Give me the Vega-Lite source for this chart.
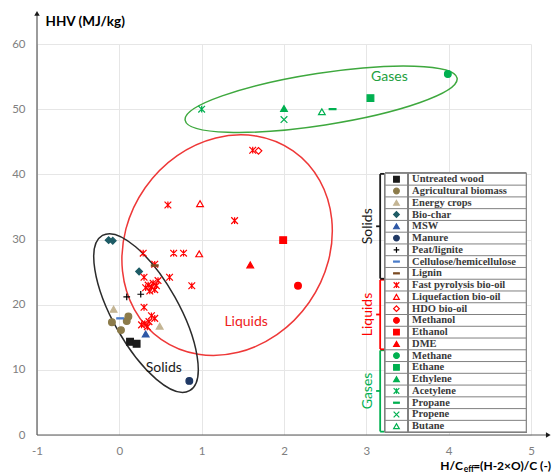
{
  "$schema": "https://vega.github.io/schema/vega-lite/v6.json",
  "width": 494,
  "height": 391,
  "autosize": "none",
  "padding": {"left": 37, "top": 44, "right": 22, "bottom": 41},
  "background": "white",
  "config": {"view": {"stroke": null}, "font": "Lato"},
  "layer": [
    {
      "layer": [
        {
          "data": {"values": [
            {"series": "Untreated wood", "x": 0.13, "y": 14.3},
            {"series": "Manure", "x": 0.85, "y": 8.3},
            {"series": "Methane", "x": 3.99, "y": 55.4}
          ]},
          "mark": {"type": "point", "opacity": 0, "size": 1},
          "encoding": {
            "x": {"field": "x", "type": "quantitative", "scale": {"domain": [-1, 5], "nice": false, "zero": false},
              "axis": {"values": [-1, 0, 1, 2, 3, 4, 5], "labelExpr": "datum.value < 0 ? '-' + abs(datum.value) : '' + datum.value", "title": null, "grid": true, "gridColor": "#e6e6e6", "domain": false, "ticks": false, "labelPadding": 10, "labelColor": "#808080", "labelFontSize": 11.5, "labelFont": "Lato", "labelFlush": false}},
            "y": {"field": "y", "type": "quantitative", "scale": {"domain": [0, 60], "nice": false, "zero": false},
              "axis": {"values": [0, 10, 20, 30, 40, 50, 60], "labelExpr": "'' + datum.value", "title": "HHV (MJ/kg)", "titleAngle": 0, "titleX": 8, "titleY": -23, "titleAlign": "left", "titleBaseline": "middle", "titleFontSize": 13.5, "titleFontWeight": "bold", "titleColor": "#000000", "titleFont": "Lato", "grid": true, "gridColor": "#e6e6e6", "domain": false, "ticks": false, "labelPadding": 12, "labelColor": "#808080", "labelFontSize": 11.5, "labelFont": "Lato"}}
          }
        },
        {
          "data": {"values": [{}]},
          "mark": {"type": "point", "shape": "M 1 0 C 1 0.1044 0.5523 0.189 0 0.189 C -0.5523 0.189 -1 0.1044 -1 0 C -1 -0.1044 -0.5523 -0.189 0 -0.189 C 0.5523 -0.189 1 -0.1044 1 0 Z", "size": 75735, "angle": -8.8, "filled": false, "stroke": "#3ea83e", "strokeWidth": 1.5, "opacity": 1},
          "encoding": {"x": {"datum": 2.451}, "y": {"datum": 51.53}}
        },
        {
          "data": {"values": [{}]},
          "mark": {"type": "point", "shape": "M 1 0 C 1 0.4805 0.5523 0.87 0 0.87 C -0.5523 0.87 -1 0.4805 -1 0 C -1 -0.4805 -0.5523 -0.87 0 -0.87 C 0.5523 -0.87 1 -0.4805 1 0 Z", "size": 52900, "angle": -55, "filled": false, "stroke": "#ee3838", "strokeWidth": 1.5, "opacity": 1},
          "encoding": {"x": {"datum": 1.309}, "y": {"datum": 29.14}}
        },
        {
          "data": {"values": [{}]},
          "mark": {"type": "point", "shape": "M 1 0 C 1 0.2049 0.5523 0.371 0 0.371 C -0.5523 0.371 -1 0.2049 -1 0 C -1 -0.2049 -0.5523 -0.371 0 -0.371 C 0.5523 -0.371 1 -0.2049 1 0 Z", "size": 31684, "angle": 60.7, "filled": false, "stroke": "#2b2b2b", "strokeWidth": 1.5, "opacity": 1},
          "encoding": {"x": {"datum": 0.324}, "y": {"datum": 18.71}}
        },
        {
          "data": {"values": [{}]},
          "mark": {"type": "text", "text": "Gases", "color": "#22a040", "fontSize": 14, "font": "Lato"},
          "encoding": {"x": {"datum": 3.28}, "y": {"datum": 54.95}}
        },
        {
          "data": {"values": [{}]},
          "mark": {"type": "text", "text": "Liquids", "color": "#ee2020", "fontSize": 14, "font": "Lato"},
          "encoding": {"x": {"datum": 1.54}, "y": {"datum": 17.3}}
        },
        {
          "data": {"values": [{}]},
          "mark": {"type": "text", "text": "Solids", "color": "#1a1a1a", "fontSize": 14, "font": "Lato"},
          "encoding": {"x": {"datum": 0.54}, "y": {"datum": 10.3}}
        },
        {
          "data": {"values": [
            {"series": "Untreated wood", "x": 0.13, "y": 14.3},
            {"series": "Untreated wood", "x": 0.21, "y": 14.0},
            {"series": "Agricultural biomass", "x": -0.09, "y": 17.3},
            {"series": "Agricultural biomass", "x": 0.02, "y": 16.1},
            {"series": "Agricultural biomass", "x": 0.09, "y": 17.5},
            {"series": "Agricultural biomass", "x": 0.11, "y": 18.2},
            {"series": "Energy crops", "x": -0.07, "y": 19.3},
            {"series": "Energy crops", "x": 0.49, "y": 16.7},
            {"series": "Bio-char", "x": -0.13, "y": 29.9},
            {"series": "Bio-char", "x": -0.08, "y": 29.8},
            {"series": "Bio-char", "x": 0.24, "y": 25.1},
            {"series": "MSW", "x": 0.32, "y": 15.5},
            {"series": "Manure", "x": 0.85, "y": 8.3},
            {"series": "Peat/lignite", "x": 0.09, "y": 21.2},
            {"series": "Peat/lignite", "x": 0.26, "y": 21.6},
            {"series": "Cellulose/hemicellulose", "x": 0.01, "y": 17.9},
            {"series": "Fast pyrolysis bio-oil", "x": 0.59, "y": 35.3},
            {"series": "Fast pyrolysis bio-oil", "x": 0.29, "y": 27.9},
            {"series": "Fast pyrolysis bio-oil", "x": 0.43, "y": 26.2},
            {"series": "Fast pyrolysis bio-oil", "x": 0.66, "y": 27.9},
            {"series": "Fast pyrolysis bio-oil", "x": 0.78, "y": 27.9},
            {"series": "Fast pyrolysis bio-oil", "x": 0.30, "y": 24.2},
            {"series": "Fast pyrolysis bio-oil", "x": 0.61, "y": 24.2},
            {"series": "Fast pyrolysis bio-oil", "x": 0.88, "y": 22.9},
            {"series": "Fast pyrolysis bio-oil", "x": 1.40, "y": 32.9},
            {"series": "Fast pyrolysis bio-oil", "x": 1.62, "y": 43.7},
            {"series": "Fast pyrolysis bio-oil", "x": 0.35, "y": 23.0},
            {"series": "Fast pyrolysis bio-oil", "x": 0.41, "y": 23.3},
            {"series": "Fast pyrolysis bio-oil", "x": 0.47, "y": 23.7},
            {"series": "Fast pyrolysis bio-oil", "x": 0.37, "y": 22.1},
            {"series": "Fast pyrolysis bio-oil", "x": 0.43, "y": 22.3},
            {"series": "Fast pyrolysis bio-oil", "x": 0.32, "y": 22.6},
            {"series": "Fast pyrolysis bio-oil", "x": 0.39, "y": 22.7},
            {"series": "Fast pyrolysis bio-oil", "x": 0.45, "y": 22.9},
            {"series": "Fast pyrolysis bio-oil", "x": 0.30, "y": 19.6},
            {"series": "Fast pyrolysis bio-oil", "x": 0.39, "y": 18.3},
            {"series": "Fast pyrolysis bio-oil", "x": 0.43, "y": 17.9},
            {"series": "Fast pyrolysis bio-oil", "x": 0.31, "y": 17.1},
            {"series": "Fast pyrolysis bio-oil", "x": 0.36, "y": 17.4},
            {"series": "Fast pyrolysis bio-oil", "x": 0.27, "y": 16.9},
            {"series": "Fast pyrolysis bio-oil", "x": 0.34, "y": 16.6},
            {"series": "Lignin", "x": 0.43, "y": 26.0},
            {"series": "Liquefaction bio-oil", "x": 0.98, "y": 35.5},
            {"series": "Liquefaction bio-oil", "x": 0.97, "y": 27.8},
            {"series": "HDO bio-oil", "x": 1.69, "y": 43.6},
            {"series": "Methanol", "x": 2.17, "y": 22.9},
            {"series": "Ethanol", "x": 1.99, "y": 29.9},
            {"series": "DME", "x": 1.59, "y": 26.1},
            {"series": "Methane", "x": 3.99, "y": 55.4},
            {"series": "Ethane", "x": 3.05, "y": 51.7},
            {"series": "Ethylene", "x": 2.0, "y": 50.1},
            {"series": "Acetylene", "x": 1.0, "y": 50.0},
            {"series": "Propane", "x": 2.59, "y": 50.0},
            {"series": "Propene", "x": 2.0, "y": 48.4},
            {"series": "Butane", "x": 2.46, "y": 49.6}
          ]},
          "mark": {"type": "point", "opacity": 1, "strokeWidth": 1.2},
          "encoding": {
            "x": {"field": "x", "type": "quantitative"},
            "y": {"field": "y", "type": "quantitative"},
            "shape": {"field": "series", "type": "nominal", "legend": null, "scale": {
              "domain": ["Untreated wood", "Agricultural biomass", "Energy crops", "Bio-char", "MSW", "Manure", "Peat/lignite", "Cellulose/hemicellulose", "Lignin", "Fast pyrolysis bio-oil", "Liquefaction bio-oil", "HDO bio-oil", "Methanol", "Ethanol", "DME", "Methane", "Ethane", "Ethylene", "Acetylene", "Propane", "Propene", "Butane"],
              "range": ["square", "circle", "triangle-up", "diamond", "triangle-up", "circle", "M -1 0 L 1 0 M 0 -1 L 0 1", "M -1 -0.18 L 1 -0.18 L 1 0.18 L -1 0.18 Z", "M -1 -0.18 L 1 -0.18 L 1 0.18 L -1 0.18 Z", "M -1 -1 L 1 1 M -1 1 L 1 -1 M 0 -1 L 0 1", "triangle-up", "diamond", "circle", "square", "triangle-up", "circle", "square", "triangle-up", "M -1 -1 L 1 1 M -1 1 L 1 -1 M 0 -1 L 0 1", "M -1 -0.18 L 1 -0.18 L 1 0.18 L -1 0.18 Z", "M -1 -1 L 1 1 M -1 1 L 1 -1", "triangle-up"]}},
            "fill": {"field": "series", "type": "nominal", "legend": null, "scale": {
              "domain": ["Untreated wood", "Agricultural biomass", "Energy crops", "Bio-char", "MSW", "Manure", "Peat/lignite", "Cellulose/hemicellulose", "Lignin", "Fast pyrolysis bio-oil", "Liquefaction bio-oil", "HDO bio-oil", "Methanol", "Ethanol", "DME", "Methane", "Ethane", "Ethylene", "Acetylene", "Propane", "Propene", "Butane"],
              "range": ["#1a1a1a", "#8c7b4a", "#c4b594", "#1e5c66", "#2e58a6", "#1f3864", "transparent", "#4a7cc9", "#7b4b22", "transparent", "white", "white", "#ff0000", "#ff0000", "#ff0000", "#00b050", "#00b050", "#00b050", "transparent", "#00b050", "transparent", "white"]}},
            "stroke": {"field": "series", "type": "nominal", "legend": null, "scale": {
              "domain": ["Untreated wood", "Agricultural biomass", "Energy crops", "Bio-char", "MSW", "Manure", "Peat/lignite", "Cellulose/hemicellulose", "Lignin", "Fast pyrolysis bio-oil", "Liquefaction bio-oil", "HDO bio-oil", "Methanol", "Ethanol", "DME", "Methane", "Ethane", "Ethylene", "Acetylene", "Propane", "Propene", "Butane"],
              "range": ["#1a1a1a", "#8c7b4a", "#c4b594", "#1e5c66", "#2e58a6", "#1f3864", "#000000", "#4a7cc9", "#7b4b22", "#ff0000", "#ff0000", "#ff0000", "#ff0000", "#ff0000", "#ff0000", "#00b050", "#00b050", "#00b050", "#00b050", "#00b050", "#00b050", "#00b050"]}},
            "size": {"field": "series", "type": "nominal", "legend": null, "scale": {
              "domain": ["Untreated wood", "Agricultural biomass", "Energy crops", "Bio-char", "MSW", "Manure", "Peat/lignite", "Cellulose/hemicellulose", "Lignin", "Fast pyrolysis bio-oil", "Liquefaction bio-oil", "HDO bio-oil", "Methanol", "Ethanol", "DME", "Methane", "Ethane", "Ethylene", "Acetylene", "Propane", "Propene", "Butane"],
              "range": [45, 45, 50, 50, 50, 45, 36, 80, 80, 55, 60, 60, 45, 45, 50, 45, 45, 50, 55, 80, 36, 50]}}
          }
        },
        {
          "data": {"values": [{}]},
          "mark": {"type": "rule", "color": "#595959", "strokeWidth": 1.2},
          "encoding": {"x": {"datum": -1}, "y": {"datum": 0}, "y2": {"datum": 64.7}}
        },
        {
          "data": {"values": [{}]},
          "mark": {"type": "rule", "color": "#595959", "strokeWidth": 1.2},
          "encoding": {"x": {"datum": -1}, "x2": {"datum": 5.2}, "y": {"datum": 0}}
        },
        {
          "data": {"values": [{}]},
          "mark": {"type": "point", "shape": "triangle-up", "size": 30, "filled": true, "color": "#1a1a1a", "opacity": 1},
          "encoding": {"x": {"datum": -1}, "y": {"datum": 64.7}}
        },
        {
          "data": {"values": [{}]},
          "mark": {"type": "point", "shape": "triangle-right", "size": 30, "filled": true, "color": "#1a1a1a", "opacity": 1},
          "encoding": {"x": {"datum": 5.21}, "y": {"datum": 0}}
        },
        {
          "data": {"values": [{}]},
          "mark": {"type": "text", "text": "H/C", "align": "right", "baseline": "middle", "fontSize": 12, "fontWeight": "bold", "font": "Lato", "color": "#000000"},
          "encoding": {"x": {"datum": 4.172}, "y": {"datum": -4.75}}
        },
        {
          "data": {"values": [{}]},
          "mark": {"type": "text", "text": "eff", "align": "right", "baseline": "middle", "fontSize": 8.5, "fontWeight": "bold", "font": "Lato", "color": "#000000", "dy": 3},
          "encoding": {"x": {"datum": 4.308}, "y": {"datum": -4.75}}
        },
        {
          "data": {"values": [{}]},
          "mark": {"type": "text", "text": "=(H-2×O)/C (-)", "align": "right", "baseline": "middle", "fontSize": 12, "fontWeight": "bold", "font": "Lato", "color": "#000000"},
          "encoding": {"x": {"datum": 5.245}, "y": {"datum": -4.75}}
        }
      ]
    },
    {
      "data": {"values": [
        {"series": "Untreated wood", "group": "Solids", "row": 0},
        {"series": "Agricultural biomass", "group": "Solids", "row": 1},
        {"series": "Energy crops", "group": "Solids", "row": 2},
        {"series": "Bio-char", "group": "Solids", "row": 3},
        {"series": "MSW", "group": "Solids", "row": 4},
        {"series": "Manure", "group": "Solids", "row": 5},
        {"series": "Peat/lignite", "group": "Solids", "row": 6},
        {"series": "Cellulose/hemicellulose", "group": "Solids", "row": 7},
        {"series": "Lignin", "group": "Solids", "row": 8},
        {"series": "Fast pyrolysis bio-oil", "group": "Liquids", "row": 9},
        {"series": "Liquefaction bio-oil", "group": "Liquids", "row": 10},
        {"series": "HDO bio-oil", "group": "Liquids", "row": 11},
        {"series": "Methanol", "group": "Liquids", "row": 12},
        {"series": "Ethanol", "group": "Liquids", "row": 13},
        {"series": "DME", "group": "Liquids", "row": 14},
        {"series": "Methane", "group": "Gases", "row": 15},
        {"series": "Ethane", "group": "Gases", "row": 16},
        {"series": "Ethylene", "group": "Gases", "row": 17},
        {"series": "Acetylene", "group": "Gases", "row": 18},
        {"series": "Propane", "group": "Gases", "row": 19},
        {"series": "Propene", "group": "Gases", "row": 20},
        {"series": "Butane", "group": "Gases", "row": 21}
      ]},
      "layer": [
        {
          "mark": {"type": "rect", "fill": "white", "stroke": "#808080", "strokeWidth": 1},
          "encoding": {
            "x": {"datum": 3.228},
            "x2": {"datum": 4.942},
            "y": {"datum": -0.5, "axis": null, "scale": {"domain": [-11.5, 21.745], "reverse": true, "nice": false, "zero": false}},
            "y2": {"datum": 21.5}
          }
        },
        {
          "mark": {"type": "rule", "color": "#808080", "strokeWidth": 1, "yOffset": 5.88},
          "encoding": {
            "x": {"datum": 3.228},
            "x2": {"datum": 4.942},
            "y": {"field": "row", "type": "quantitative", "axis": null}
          }
        },
        {
          "mark": {"type": "rule", "color": "#808080", "strokeWidth": 1},
          "encoding": {
            "x": {"datum": 3.508},
            "y": {"datum": -0.5, "axis": null},
            "y2": {"datum": 21.5}
          }
        },
        {
          "mark": {"type": "point", "opacity": 1, "strokeWidth": 1.2, "size": 32},
          "encoding": {
            "x": {"datum": 3.366},
            "y": {"field": "row", "type": "quantitative", "axis": null},
            "shape": {"field": "series", "type": "nominal", "legend": null},
            "fill": {"field": "series", "type": "nominal", "legend": null},
            "stroke": {"field": "series", "type": "nominal", "legend": null}
          }
        },
        {
          "mark": {"type": "text", "align": "left", "baseline": "middle", "font": "Liberation Serif", "fontWeight": "bold", "fontSize": 10.5, "color": "#3a3a3a"},
          "encoding": {
            "x": {"datum": 3.556},
            "y": {"field": "row", "type": "quantitative", "axis": null},
            "text": {"field": "series"}
          }
        },
        {
          "transform": [{"aggregate": [{"op": "min", "field": "row", "as": "r0"}, {"op": "max", "field": "row", "as": "r1"}, {"op": "mean", "field": "row", "as": "rm"}], "groupby": ["group"]}],
          "layer": [
            {
              "mark": {"type": "rule", "strokeWidth": 1.8, "yOffset": -5.2, "y2Offset": 5.2},
              "encoding": {
                "x": {"datum": 3.168},
                "y": {"field": "r0", "type": "quantitative", "axis": null},
                "y2": {"field": "r1"},
                "color": {"field": "group", "type": "nominal", "legend": null, "scale": {"domain": ["Solids", "Liquids", "Gases"], "range": ["#1a1a1a", "#ff0000", "#00b050"]}}
              }
            },
            {
              "mark": {"type": "rule", "strokeWidth": 1.8, "yOffset": -5.4},
              "encoding": {
                "x": {"datum": 3.168},
                "x2": {"datum": 3.216},
                "y": {"field": "r0", "type": "quantitative", "axis": null},
                "color": {"field": "group", "type": "nominal", "legend": null}
              }
            },
            {
              "mark": {"type": "rule", "strokeWidth": 1.8, "yOffset": 5.4},
              "encoding": {
                "x": {"datum": 3.168},
                "x2": {"datum": 3.216},
                "y": {"field": "r1", "type": "quantitative", "axis": null},
                "color": {"field": "group", "type": "nominal", "legend": null}
              }
            },
            {
              "mark": {"type": "rule", "strokeWidth": 1.8},
              "encoding": {
                "x": {"datum": 3.119},
                "x2": {"datum": 3.168},
                "y": {"field": "rm", "type": "quantitative", "axis": null},
                "color": {"field": "group", "type": "nominal", "legend": null}
              }
            },
            {
              "mark": {"type": "text", "angle": 270, "align": "center", "baseline": "middle", "fontSize": 14, "font": "Lato"},
              "encoding": {
                "x": {"datum": 3.022},
                "y": {"field": "rm", "type": "quantitative", "axis": null},
                "text": {"field": "group"},
                "color": {"field": "group", "type": "nominal", "legend": null}
              }
            }
          ]
        }
      ]
    }
  ],
  "resolve": {"scale": {"y": "independent"}}
}
